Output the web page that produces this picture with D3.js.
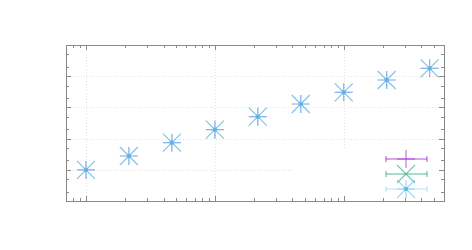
<!DOCTYPE html>
<html>
<head>
<meta charset="utf-8">
<script src="https://cdn.jsdelivr.net/npm/d3@7"></script>
<style>
  body { margin: 0; background: #fff; }
  svg { display: block; }
</style>
</head>
<body>
<svg width="472" height="250"></svg>
<script>
// sample sizes (log spaced) and measured values, three runs overlap
var xs = [1, 2.154, 4.642, 10, 21.54, 46.42, 100, 215.4, 464.2];
var seriesA = [9.9, 27.7, 74, 193, 504, 1285, 3048, 7550, 17900];
var seriesB = [9.9, 27.7, 74, 193, 504, 1285, 3048, 7550, 17900];
var seriesC = [9.9, 27.7, 74, 193, 504, 1285, 3048, 7550, 17900];
var xMajor = [1, 10, 100];
var yMajor = [1, 10, 100, 1000, 10000, 100000];

var svg = d3.select("svg");
var pLeft = 66, pRight = 444, pTop = 45, pBottom = 201;

var x = d3.scaleLog().domain([0.7, 600]).range([pLeft, pRight]);
var y = d3.scaleLog().domain([1, 1e5]).range([pBottom, pTop]);

var frameColor = "#8a8a8a";
var gridColor = "#e2e2e2";

// grid
var grid = svg.append("g");
grid.selectAll("line.gx")
    .data(xMajor)
  .enter().append("line")
    .attr("x1", function(d) { return Math.round(x(d)) + 0.5; })
    .attr("x2", function(d) { return Math.round(x(d)) + 0.5; })
    .attr("y1", pTop).attr("y2", pBottom)
    .attr("stroke", gridColor).attr("stroke-dasharray", "1,2");
grid.selectAll("line.gy")
    .data(yMajor.slice(1, 5))
  .enter().append("line")
    .attr("y1", function(d) { return Math.round(y(d)) + 0.5; })
    .attr("y2", function(d) { return Math.round(y(d)) + 0.5; })
    .attr("x1", pLeft).attr("x2", pRight)
    .attr("stroke", gridColor).attr("stroke-dasharray", "1,2");

// key background hides grid under it
var keyX = 293, keyY = 150;
svg.append("rect")
    .attr("x", keyX).attr("y", keyY)
    .attr("width", pRight - keyX - 1).attr("height", pBottom - keyY - 1)
    .attr("fill", "#fff");

// ticks on all four sides, pointing in
function xTicks() {
  var t = [];
  [0.1, 1, 10, 100].forEach(function(dec) {
    for (var k = 1; k < 10; k++) {
      var v = dec * k;
      if (v >= 0.7 && v <= 600) t.push({v: v, major: k === 1});
    }
  });
  return t;
}
function yTicks() {
  var t = [];
  [1, 10, 100, 1000, 10000, 100000].forEach(function(dec) {
    [1, 2, 5].forEach(function(k) {
      var v = dec * k;
      if (v >= 1 && v <= 1e5) t.push({v: v, major: k === 1});
    });
  });
  return t;
}

var ticks = svg.append("g").attr("stroke", frameColor);
xTicks().forEach(function(d) {
  var px = Math.round(x(d.v)) + 0.5, len = d.major ? 5 : 3;
  ticks.append("line").attr("x1", px).attr("x2", px).attr("y1", pBottom).attr("y2", pBottom - len);
  ticks.append("line").attr("x1", px).attr("x2", px).attr("y1", pTop).attr("y2", pTop + len);
});
yTicks().forEach(function(d) {
  var py = Math.round(y(d.v)) + 0.5, len = d.major ? 5 : 3;
  ticks.append("line").attr("y1", py).attr("y2", py).attr("x1", pLeft).attr("x2", pLeft + len);
  ticks.append("line").attr("y1", py).attr("y2", py).attr("x1", pRight).attr("x2", pRight - len);
});

svg.append("rect")
    .attr("x", pLeft + 0.5).attr("y", pTop + 0.5)
    .attr("width", pRight - pLeft).attr("height", pBottom - pTop)
    .attr("fill", "none").attr("stroke", frameColor);

// point glyphs
var r = 9;
function plus(g, cx, cy, color, op) {
  g.append("path")
    .attr("d", "M" + (cx - r) + "," + cy + "H" + (cx + r) + "M" + cx + "," + (cy - r) + "V" + (cy + r))
    .attr("stroke", color).attr("stroke-opacity", op).attr("stroke-width", 1.2).attr("fill", "none");
}
function cross(g, cx, cy, color, op) {
  g.append("path")
    .attr("d", "M" + (cx - r) + "," + (cy - r) + "L" + (cx + r) + "," + (cy + r) +
               "M" + (cx - r) + "," + (cy + r) + "L" + (cx + r) + "," + (cy - r))
    .attr("stroke", color).attr("stroke-opacity", op).attr("stroke-width", 1.1).attr("fill", "none");
}
function star(g, cx, cy, color, op) {
  plus(g, cx, cy, color, op);
  cross(g, cx, cy, color, op);
  g.append("rect").attr("x", cx - 2).attr("y", cy - 2).attr("width", 4).attr("height", 4)
    .attr("fill", color).attr("fill-opacity", 0.8);
}

var series = [
  {vals: seriesA, color: "#9400d3", glyph: plus, op: 0.28},
  {vals: seriesB, color: "#009e73", glyph: cross, op: 0.2},
  {vals: seriesC, color: "#56b4e9", glyph: star, op: 0.65}
];

var pts = svg.append("g");
series.forEach(function(s) {
  s.vals.forEach(function(v, i) {
    s.glyph(pts, x(xs[i]), y(v), s.color, s.op);
  });
});

// key entries with x error bar samples
var key = svg.append("g");
series.forEach(function(s, i) {
  var cy = 159 + i * 15, cx = 406, x0 = 386, x1 = 427;
  key.append("path")
    .attr("d", "M" + x0 + "," + cy + "H" + x1 + "M" + x0 + "," + (cy - 3) + "V" + (cy + 3) + "M" + x1 + "," + (cy - 3) + "V" + (cy + 3))
    .attr("stroke", s.color).attr("stroke-opacity", i === 2 ? 0.4 : 0.7).attr("fill", "none");
  s.glyph(key, cx, cy, s.color, 0.55);
});
</script>
</body>
</html>
